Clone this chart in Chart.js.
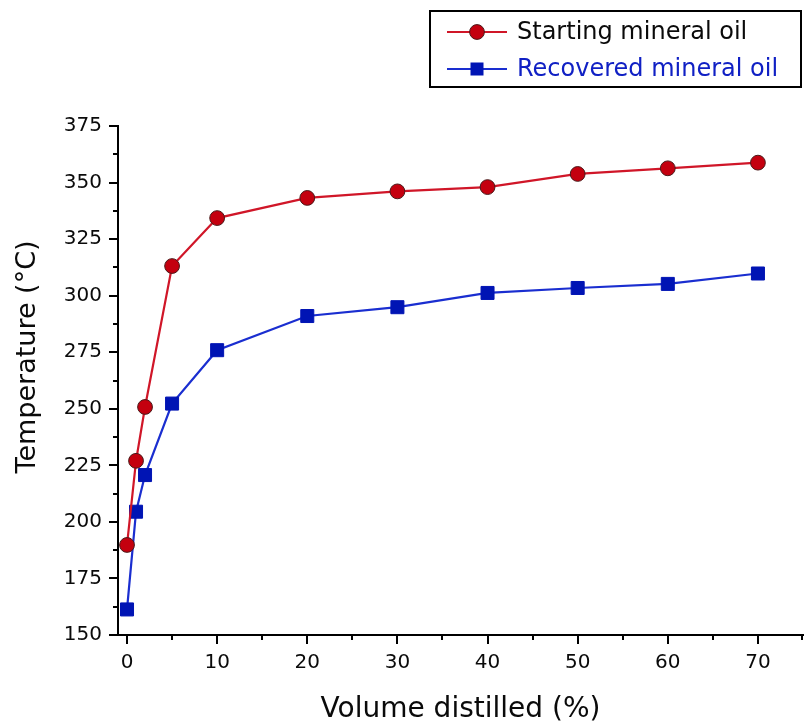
<!DOCTYPE html>
<html><head><meta charset="utf-8">
<script src="https://cdn.jsdelivr.net/npm/chart.js@4"></script>
<style>html,body{margin:0;padding:0;background:#fff}#wrap{width:807px;height:723px}</style>
</head><body><div id="wrap"><canvas id="c" width="807" height="723"></canvas></div>
<script>
const volume = [0, 1, 2, 5, 10, 20, 30, 40, 50, 60, 70];
const startingOil = [189.8, 227.0, 250.8, 313.1, 334.3, 343.2, 346.1, 348.0, 353.8, 356.3, 358.8];
const recoveredOil = [161.3, 204.5, 220.7, 252.3, 275.9, 291.0, 294.9, 301.2, 303.4, 305.2, 309.8];
const xTickLabels = [0, 10, 20, 30, 40, 50, 60, 70];
const yTickLabels = [150, 175, 200, 225, 250, 275, 300, 325, 350, 375];
const seriesNames = ['Starting mineral oil', 'Recovered mineral oil'];
const xTitle = 'Volume distilled (%)';
const yTitle = 'Temperature (°C)';

const FONT = "'DejaVu Sans', sans-serif";
const RED_LINE = '#d01628', RED_FILL = '#c4000f', RED_EDGE = '#4a1a1a';
const BLUE_LINE = '#1a2ed0', BLUE_FILL = '#0014b4';

const decorations = {
  id: 'decorations',
  afterDraw(chart) {
    const ctx = chart.ctx;
    const xs = chart.scales.x, ys = chart.scales.y;
    const area = chart.chartArea;
    ctx.save();
    ctx.strokeStyle = '#000';
    ctx.lineWidth = 2;
    const xMinor = xTickLabels.map(v => v + 5);
    ctx.beginPath();
    xTickLabels.forEach(v => { const p = Math.round(xs.getPixelForValue(v)); ctx.moveTo(p, area.bottom); ctx.lineTo(p, area.bottom + 9); });
    xMinor.forEach(v => { if (v <= xs.max) { const p = Math.min(Math.round(xs.getPixelForValue(v)), Math.round(area.right) - 1); ctx.moveTo(p, area.bottom); ctx.lineTo(p, area.bottom + 5); } });
    yTickLabels.forEach(v => { const p = Math.round(ys.getPixelForValue(v)); ctx.moveTo(area.left, p); ctx.lineTo(area.left - 9, p); });
    yTickLabels.forEach(v => { const m = v + 12.5; if (m <= ys.max) { const p = Math.round(ys.getPixelForValue(m)); ctx.moveTo(area.left, p); ctx.lineTo(area.left - 5, p); } });
    ctx.stroke();

    ctx.fillStyle = '#0a0a0a';
    ctx.font = '28px ' + FONT;
    ctx.textAlign = 'center';
    ctx.textBaseline = 'alphabetic';
    ctx.fillText(xTitle, (area.left + area.right) / 2, 717);
    ctx.save();
    ctx.translate(35, 357);
    ctx.rotate(-Math.PI / 2);
    ctx.font = '27px ' + FONT;
    ctx.fillText(yTitle, 0, 0);
    ctx.restore();

    ctx.lineWidth = 2;
    ctx.strokeStyle = '#000';
    ctx.strokeRect(430, 11, 371, 76);
    const rows = [
      { y: 32, line: RED_LINE, text: '#0a0a0a', name: seriesNames[0], kind: 'circle' },
      { y: 69, line: BLUE_LINE, text: '#1020c4', name: seriesNames[1], kind: 'rect' }
    ];
    rows.forEach(r => {
      ctx.strokeStyle = r.line;
      ctx.lineWidth = 2;
      ctx.beginPath(); ctx.moveTo(447, r.y); ctx.lineTo(507, r.y); ctx.stroke();
      if (r.kind === 'circle') {
        ctx.beginPath(); ctx.arc(477, r.y, 7.4, 0, Math.PI * 2);
        ctx.fillStyle = RED_FILL; ctx.fill();
        ctx.lineWidth = 1; ctx.strokeStyle = RED_EDGE; ctx.stroke();
      } else {
        ctx.fillStyle = BLUE_FILL;
        ctx.fillRect(477 - 6.5, r.y - 6.5, 13, 13);
      }
      ctx.fillStyle = r.text;
      ctx.font = '24px ' + FONT;
      ctx.textAlign = 'left';
      ctx.textBaseline = 'middle';
      ctx.fillText(r.name, 517, r.y + 1);
    });
    ctx.restore();
  }
};

new Chart(document.getElementById('c'), {
  type: 'line',
  data: {
    datasets: [
      {
        label: seriesNames[0],
        data: volume.map((v, i) => ({ x: v, y: startingOil[i] })),
        borderColor: RED_LINE, borderWidth: 2.2,
        pointStyle: 'circle', pointRadius: 7.4, pointBackgroundColor: RED_FILL,
        pointBorderColor: RED_EDGE, pointBorderWidth: 1, tension: 0, clip: false
      },
      {
        label: seriesNames[1],
        data: volume.map((v, i) => ({ x: v, y: recoveredOil[i] })),
        borderColor: BLUE_LINE, borderWidth: 2.2,
        pointStyle: 'rect', pointRadius: 9.2, pointBackgroundColor: BLUE_FILL,
        pointBorderColor: BLUE_FILL, pointBorderWidth: 1, tension: 0, clip: false
      }
    ]
  },
  options: {
    responsive: false,
    animation: false,
    devicePixelRatio: 1,
    layout: { autoPadding: false, padding: { left: 0, right: 4, top: 126, bottom: 0 } },
    plugins: { legend: { display: false }, tooltip: { enabled: false }, title: { display: false } },
    scales: {
      x: {
        type: 'linear', min: -1, max: 75,
        afterBuildTicks: s => { s.ticks = xTickLabels.map(v => ({ value: v })); },
        afterFit: s => { s.height = 88; s.paddingLeft = 0; s.paddingRight = 0; },
        grid: { display: true, drawOnChartArea: false, drawTicks: false, color: 'rgba(0,0,0,0)' },
        border: { display: true, color: '#000', width: 2 },
        ticks: { color: '#0a0a0a', font: { family: FONT, size: 20 }, padding: 16, maxRotation: 0, autoSkip: false }
      },
      y: {
        type: 'linear', min: 150, max: 375,
        afterBuildTicks: s => { s.ticks = yTickLabels.map(v => ({ value: v })); },
        afterFit: s => { s.width = 118; s.paddingTop = 0; s.paddingBottom = 0; },
        grid: { display: true, drawOnChartArea: false, drawTicks: false, color: 'rgba(0,0,0,0)' },
        border: { display: true, color: '#000', width: 2 },
        ticks: { color: '#0a0a0a', font: { family: FONT, size: 20 }, padding: 16, autoSkip: false }
      }
    }
  },
  plugins: [decorations]
});
</script>
</body></html>
